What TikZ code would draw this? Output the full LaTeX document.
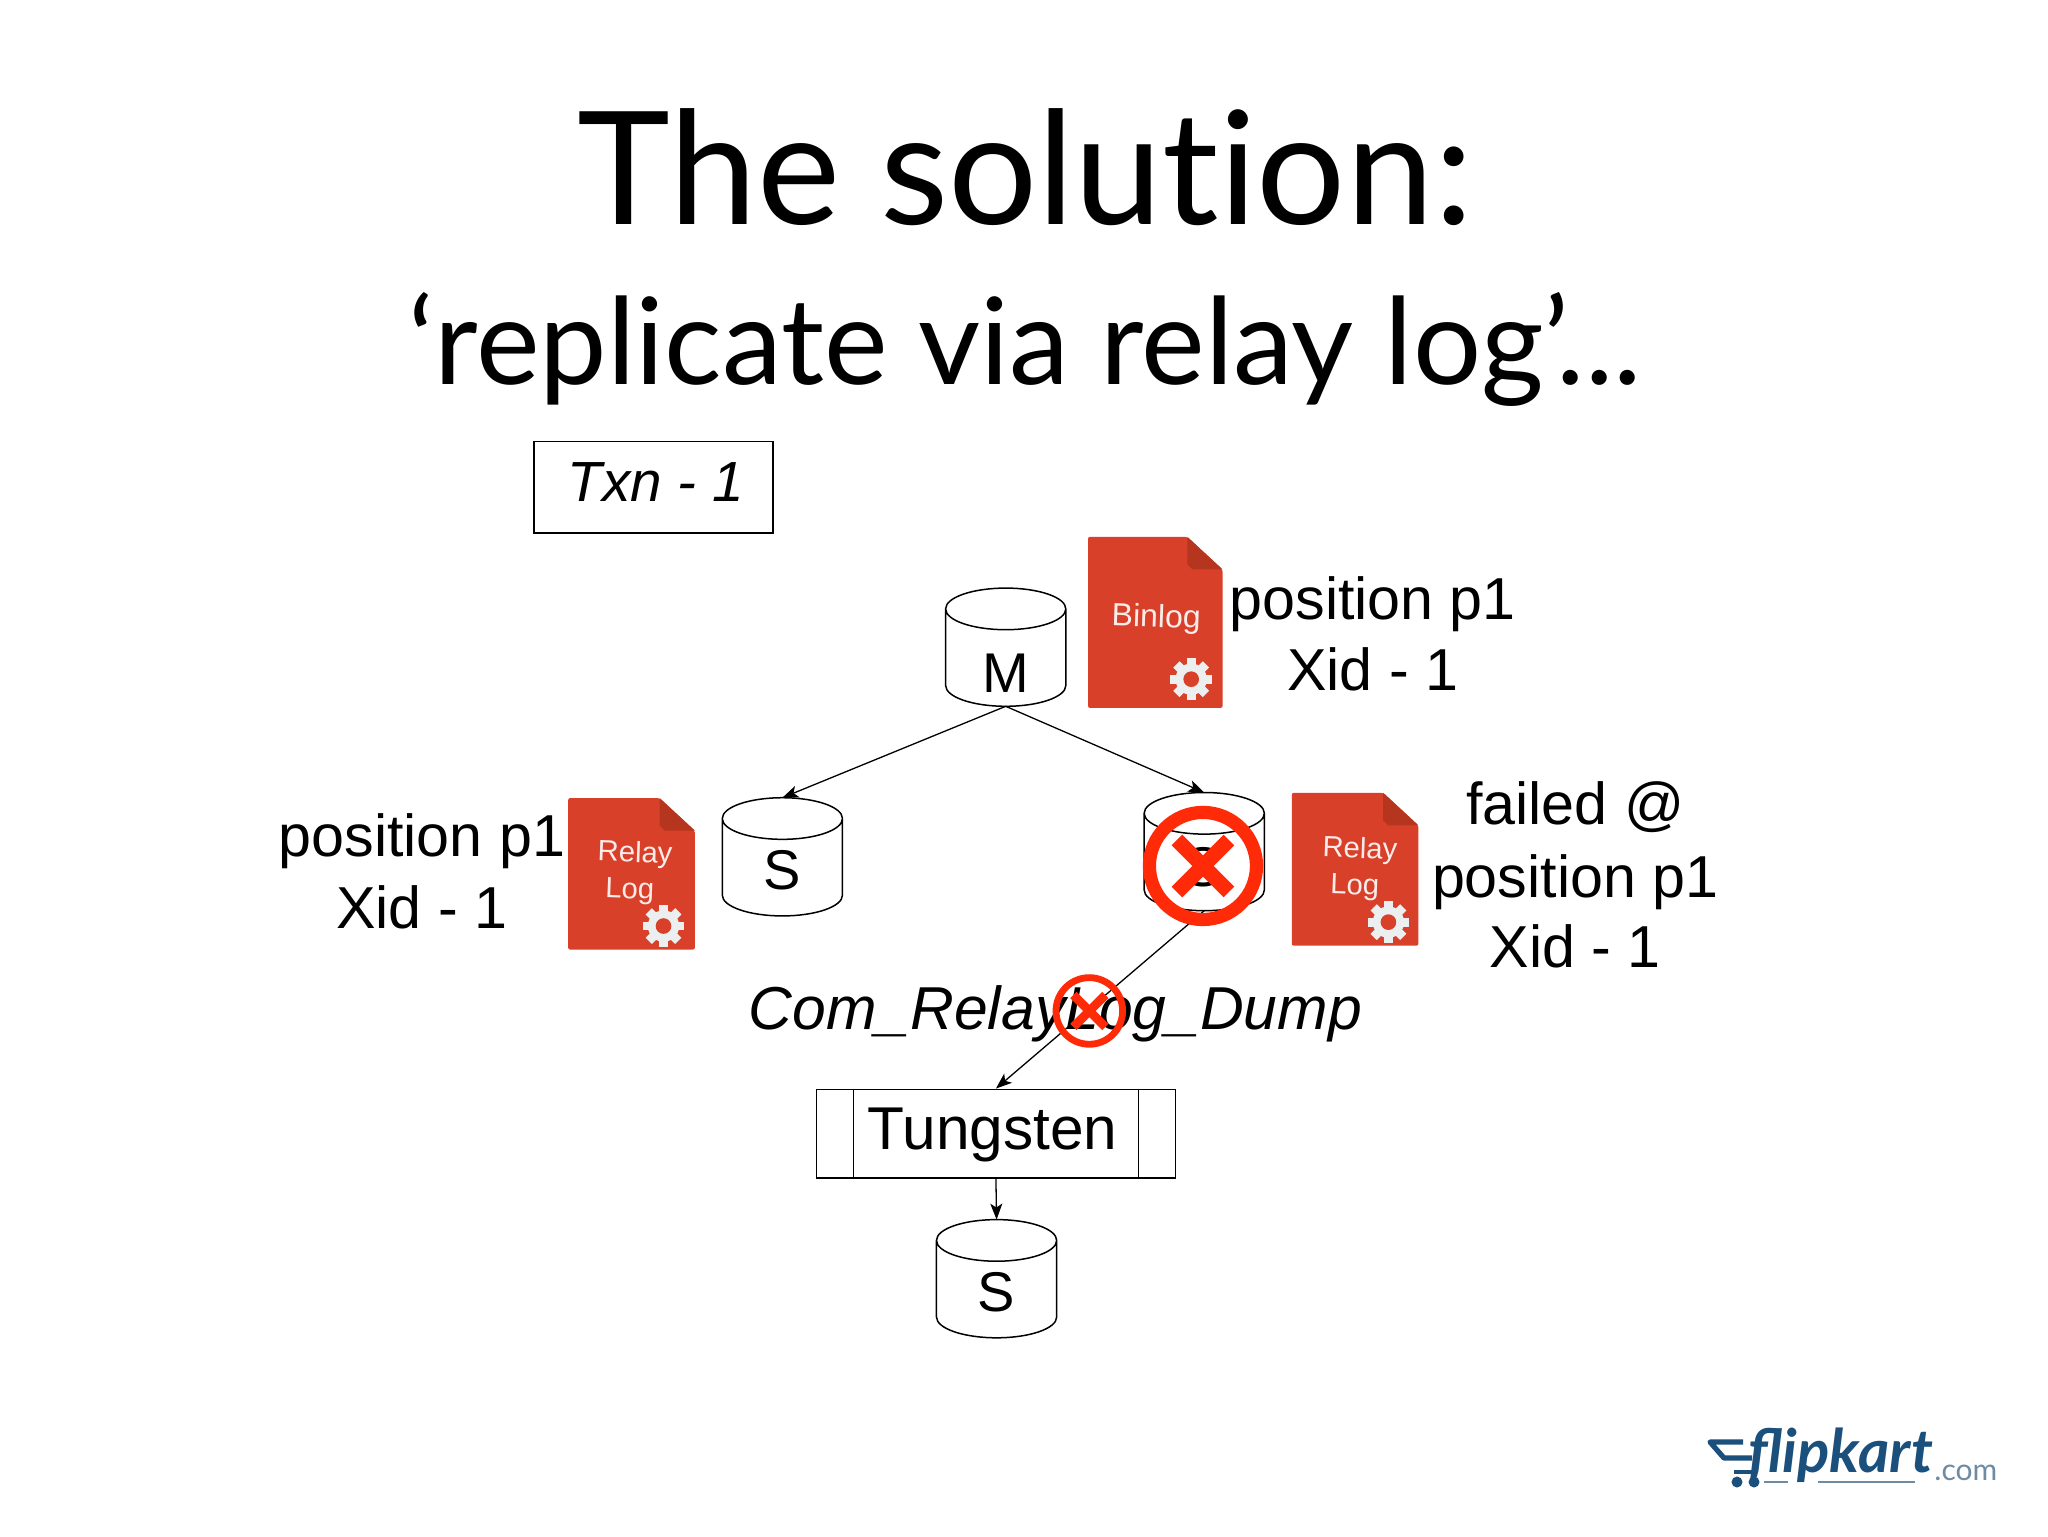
\documentclass[tikz,border=0pt]{standalone}
\usepackage{fontspec}
\setmainfont{Liberation Sans}
\newfontfamily\titlefont[Ligatures=NoCommon]{Lato}
\newfontfamily\logofont{Lato}
\usetikzlibrary{arrows.meta}
\definecolor{docred}{HTML}{D8402A}
\definecolor{docfold}{HTML}{B5351F}
\definecolor{gearcol}{HTML}{ECEFEF}
\definecolor{stopred}{HTML}{FF2A08}
\definecolor{logoblue}{HTML}{1B4F7C}
\definecolor{logogrey}{HTML}{6F8AA3}
\tikzset{
  edge/.style={draw=black,line width=0.65pt,-{Stealth[length=8pt,width=6pt,inset=2pt]}},
  outline/.style={draw=black,line width=0.75pt},
  bigtext/.style={font=\fontsize{29.6}{32}\selectfont,anchor=base,inner sep=0pt},
  itext/.style={font=\fontsize{30.3}{32}\selectfont\itshape,anchor=base,inner sep=0pt},
  doctext/.style={text=white!90!docred,anchor=base,inner sep=0pt,rotate=-2},
  dbbox/.style={minimum width=60.1pt,minimum height=59.1pt,inner sep=0pt,outer sep=0pt}
}
\newcommand{\dbcyl}[3]{% name, cx, cy(centre)
  \node[dbbox] (#1) at (#2,#3) {};
  \draw[outline,fill=white]
     ([yshift=-10.4pt]#1.north west) -- ([yshift=10.4pt]#1.south west)
     arc[start angle=180,end angle=360,x radius=30.05pt,y radius=10.4pt]
     -- ([yshift=-10.4pt]#1.north east)
     arc[start angle=0,end angle=180,x radius=30.05pt,y radius=10.4pt]
     arc[start angle=180,end angle=360,x radius=30.05pt,y radius=10.4pt];
}
\newcommand{\docicon}[4]{% x1,y1,x2,y2
  \fill[docred,rounded corners=1pt] (#1,#2) -- (#3-27,#2) -- (#3,#2+25) -- (#3,#4) -- (#1,#4) -- cycle;
  \fill[docfold] (#3-27,#2) -- (#3,#2+25) -- (#3-27+4,#2+25) -- (#3-27,#2+21) -- cycle;
}
\newcommand{\gearicon}[2]{%
  \foreach \a in {0,45,...,315}{
    \fill[gearcol,rotate around={\a:(#1,#2)}] (#1-3.4,#2) rectangle (#1+3.4,#2-16);
  }
  \fill[gearcol] (#1,#2) circle (12);
  \fill[docred] (#1,#2) circle (6);
}
\begin{document}
\begin{tikzpicture}[x=0.653061pt,y=-0.653061pt]
\useasboundingbox (0,0) rectangle (1568,1176);
\fill[white] (0,0) rectangle (1568,1176);

% titles
\node[font=\titlefont\fontsize{78.7}{84}\selectfont,anchor=base,inner sep=0pt] (title) at (785,172) {The solution:};
\node[font=\titlefont\fontsize{60.2}{64}\selectfont,anchor=base,inner sep=0pt] (subtitle) at (785,294) {‘replicate via relay log’...};

% Txn box
\node[draw=black,line width=0.75pt,minimum width=119.5pt,minimum height=45.7pt,inner sep=0pt] (txnbox) at (500.5,373) {};
\node[font=\fontsize{28.3}{30}\selectfont\itshape,anchor=base,inner sep=0pt] (txn) at (502,384) {Txn - 1};

% documents
\docicon{833}{411}{936}{542}
\node[doctext,font=\fontsize{16}{18}\selectfont] (binlog) at (885,480) {Binlog};
\gearicon{912}{520}
\docicon{435}{611}{532}{727}
\node[doctext,font=\fontsize{14.6}{16}\selectfont] (relayA) at (486,660) {Relay};
\node[doctext,font=\fontsize{14.6}{16}\selectfont] (logA) at (482,688) {Log};
\gearicon{508}{709}
\docicon{989}{607}{1086}{724}
\node[doctext,font=\fontsize{14.6}{16}\selectfont] (relayB) at (1041,657) {Relay};
\node[doctext,font=\fontsize{14.6}{16}\selectfont] (logB) at (1037,685) {Log};
\gearicon{1063}{706}

% databases
\dbcyl{M}{770}{495.5}
\dbcyl{Sl}{599}{656}
\dbcyl{Sr}{922}{652}
\dbcyl{Sb}{763}{979}
\node[bigtext,font=\fontsize{28}{30}\selectfont] (Mt) at (770,530) {M};
\node[bigtext,font=\fontsize{28}{30}\selectfont] (Slt) at (599,681) {S};
\node[bigtext,font=\fontsize{28}{30}\selectfont] (Srt) at (921,679) {S};
\node[bigtext,font=\fontsize{28}{30}\selectfont] (Sbt) at (763,1004) {S};

% Tungsten
\node[draw=black,line width=0.75pt,minimum width=179.6pt,minimum height=44.4pt,inner sep=0pt] (tung) at (762.5,868) {};
\draw[outline] ([xshift=18.9pt]tung.north west) -- ([xshift=18.9pt]tung.south west);
\draw[outline] ([xshift=-19pt]tung.north east) -- ([xshift=-19pt]tung.south east);
\node[font=\fontsize{30.2}{32}\selectfont,anchor=base,inner sep=0pt] (tungt) at (760,880) {Tungsten};

% connectors
\draw[edge] (M.south) -- (Sl.north);
\draw[edge] (M.south) -- (Sr.north);
\draw[edge] (Sr.south) -- (tung.north);
\draw[edge] (tung.south) -- (Sb.north);

% labels
\node[bigtext] (pA1) at (1051,474) {position p1};
\node[bigtext] (pA2) at (1051,529) {Xid - 1};
\node[bigtext] (pB1) at (323,656) {position p1};
\node[bigtext] (pB2) at (323,711) {Xid - 1};
\node[bigtext] (pC0) at (1206,631) {failed @};
\node[bigtext] (pC1) at (1206,687) {position p1};
\node[bigtext] (pC2) at (1206,741) {Xid - 1};
\node[itext] (dump) at (808,788) {Com\_RelayLog\_Dump};

% failure marks
\coordinate (failA) at (921,663);
\coordinate (failB) at (834,774);
\draw[stopred,line width=6.6pt] (failA) circle (41);
\draw[stopred,line width=7.5pt] ([shift={(-13pt,-13pt)}]failA) -- ([shift={(13pt,13pt)}]failA);
\draw[stopred,line width=7.5pt] ([shift={(-13pt,13pt)}]failA) -- ([shift={(13pt,-13pt)}]failA);
\draw[stopred,line width=3.4pt] (failB) circle (25.5);
\draw[stopred,line width=4.4pt] ([shift={(-8pt,-8pt)}]failB) -- ([shift={(8pt,8pt)}]failB);
\draw[stopred,line width=4.4pt] ([shift={(-8pt,8pt)}]failB) -- ([shift={(8pt,-8pt)}]failB);

% logo
\begin{scope}[x=0.5pt,y=-0.5pt]
  \draw[logoblue,line width=2.6pt,line join=round] (1743,1442) -- (1710,1442) -- (1724,1458) -- (1752,1458);
  \draw[logoblue,line width=2.2pt] (1734,1472) -- (1752,1472);
  \fill[logoblue] (1737,1482) circle (5.5);
  \fill[logoblue] (1754,1482) circle (5.5);
  \draw[logogrey,line width=0.8pt] (1764,1482) -- (1788,1482);
  \draw[logogrey,line width=0.8pt] (1818,1482) -- (1915,1482);
  \node[font=\logofont\bfseries\itshape\fontsize{30}{34}\selectfont,text=logoblue,anchor=base west,inner sep=0pt] (flip) at (1748,1472) {flipkart};
  \node[font=\logofont\fontsize{15}{16}\selectfont,text=logogrey,anchor=base west,inner sep=0pt] (dotcom) at (1934,1480) {.com};
\end{scope}
\end{tikzpicture}
\end{document}
